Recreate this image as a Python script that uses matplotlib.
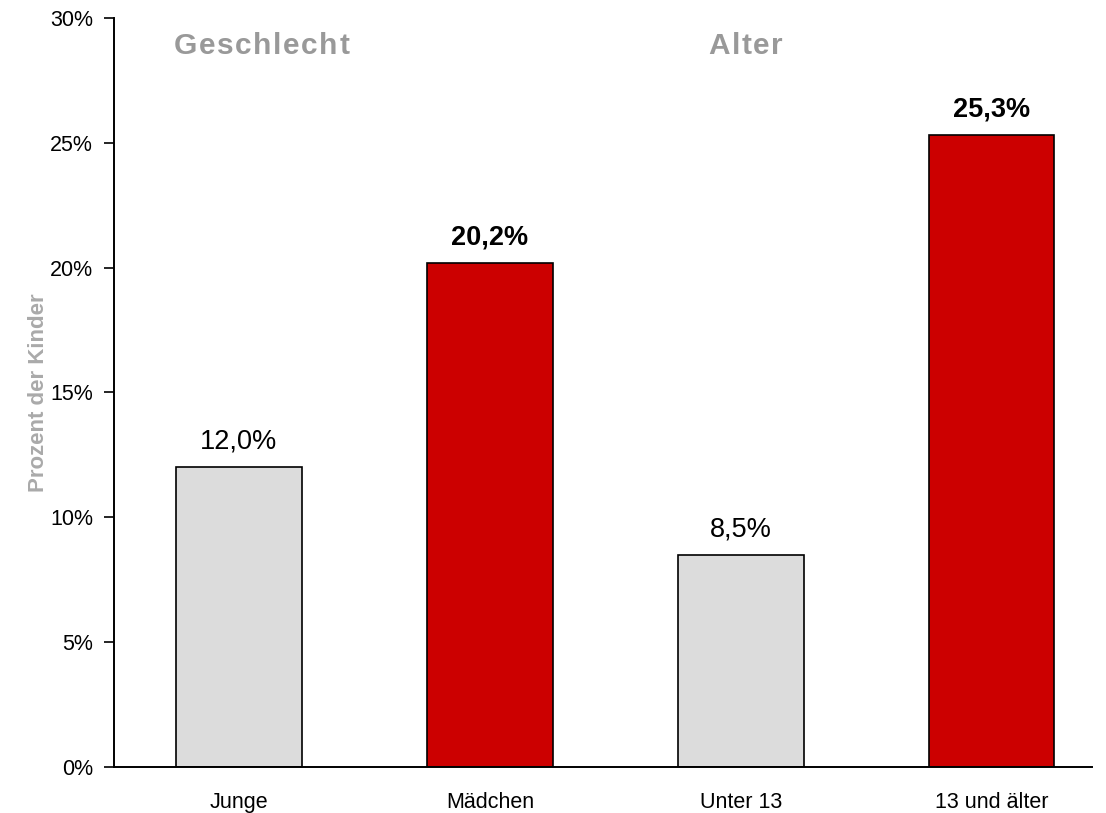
import matplotlib
matplotlib.use("Agg")
import matplotlib.pyplot as plt
from matplotlib.transforms import IdentityTransform

categories = ["Junge", "Mädchen", "Unter 13", "13 und älter"]
values     = [12.0, 20.2, 8.5, 25.3]
highlight  = [False, True, False, True]
yticks     = [0, 5, 10, 15, 20, 25, 30]
groups     = ["Geschlecht", "Alter"]
group_x    = [0.09, 2.02]

GRAY = "#DCDCDC"
RED  = "#CC0000"

plt.rcParams["font.family"] = ["Liberation Sans", "DejaVu Sans"]

fig = plt.figure(figsize=(11.06, 8.13), dpi=100)
ax = fig.add_axes([0.103, 0.0566, 0.884, 0.9214])


def spaced_text(ax, x, y, s, spacing, **kw):
    # draw text with extra letter spacing (pixels), centred on (x, y) in data coords
    renderer = fig.canvas.get_renderer()

    def width(t):
        if not t:
            return 0.0
        tmp = ax.text(0, 0, t, **kw)
        w = tmp.get_window_extent(renderer).width
        tmp.remove()
        return w

    total = width(s) + spacing * (len(s) - 1)
    px, py = ax.transData.transform((x, y))
    start = px - total / 2
    for i, ch in enumerate(s):
        ax.text(start + width(s[:i]) + spacing * i, py, ch, ha="left", va="center",
                transform=IdentityTransform(), **kw)


x = list(range(len(categories)))
colors = [RED if h else GRAY for h in highlight]
ax.bar(x, values, width=0.5, color=colors, edgecolor="black", linewidth=1.2, zorder=2)

ax.set_xlim(-0.498, 3.398)
ax.set_ylim(0, 30)

# value labels
for xi, v, h in zip(x, values, highlight):
    ax.text(xi, v + 0.5, f"{v:.1f}%".replace(".", ","), ha="center", va="bottom",
            fontsize=19.5, fontweight="bold" if h else "normal")

# group headers
for gx, g in zip(group_x, groups):
    spaced_text(ax, gx, 28.88, g, 1.6, fontsize=21.5, fontweight="bold", color="#999999")

ax.set_yticks(yticks)
ax.set_yticklabels([f"{t}%" for t in yticks], fontsize=15.5)
ax.set_xticks(x)
ax.set_xticklabels(categories, fontsize=15.5)
ax.tick_params(axis="x", length=0, pad=18)
ax.tick_params(axis="y", length=7, width=1.2, pad=8)
ax.set_ylabel("Prozent der Kinder", fontsize=16, fontweight="bold",
              color="#AAAAAA", labelpad=1)

for s in ["top", "right"]:
    ax.spines[s].set_visible(False)
for s in ["left", "bottom"]:
    ax.spines[s].set_linewidth(1.4)

fig.savefig("out.png", dpi=100)
